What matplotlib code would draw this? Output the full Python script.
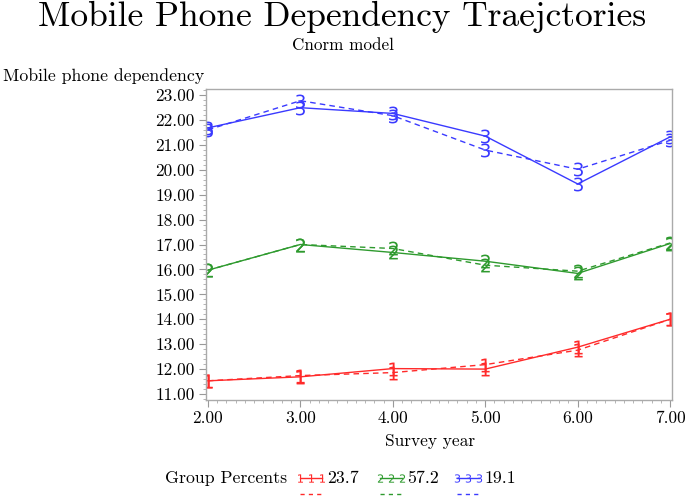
import matplotlib
matplotlib.use("Agg")
import matplotlib.pyplot as plt
from matplotlib.ticker import MultipleLocator, FormatStrFormatter, AutoMinorLocator

years = [2, 3, 4, 5, 6, 7]
obs_g1 = [11.53, 11.69, 12.02, 12.00, 12.88, 14.00]
pred_g1 = [11.53, 11.74, 11.86, 12.18, 12.76, 14.00]
obs_g2 = [15.97, 17.00, 16.68, 16.33, 15.84, 17.04]
pred_g2 = [15.97, 17.00, 16.84, 16.17, 15.93, 17.06]
obs_g3 = [21.68, 22.49, 22.26, 21.35, 19.43, 21.32]
pred_g3 = [21.60, 22.77, 22.17, 20.79, 20.02, 21.18]
group_labels = ["1", "2", "3"]
group_pcts = ["23.7", "57.2", "19.1"]
colors = ["#ff2a2a", "#2e9a2e", "#3a3aff"]

plt.rcParams['font.family'] = ['cmr10', 'DejaVu Serif']
plt.rcParams['axes.formatter.use_mathtext'] = True

fig = plt.figure(figsize=(6.85, 4.97), dpi=100)
ax = fig.add_axes([206/685, 1-400/497, (672-206)/685, (400-89)/497])

series = [(obs_g1, pred_g1), (obs_g2, pred_g2), (obs_g3, pred_g3)]
for (o, p), c, lab in zip(series, colors, group_labels):
    ax.plot(years, o, color=c, lw=1.0, ls='-', marker=f'${lab}$', ms=10, mew=0)
    ax.plot(years, p, color=c, lw=1.0, ls=(0, (4, 3)), marker=f'${lab}$', ms=10, mew=0)

ax.set_xlim(1.98, 7.02)
ax.set_ylim(10.76, 23.24)
ax.xaxis.set_major_locator(MultipleLocator(1))
ax.yaxis.set_major_locator(MultipleLocator(1))
ax.xaxis.set_minor_locator(AutoMinorLocator(10))
ax.yaxis.set_minor_locator(AutoMinorLocator(5))
ax.xaxis.set_major_formatter(FormatStrFormatter('%.2f'))
ax.yaxis.set_major_formatter(FormatStrFormatter('%.2f'))
for s in ax.spines.values():
    s.set_color('#aaaaaa')
    s.set_linewidth(1.0)
ax.tick_params(which='major', direction='out', length=5, color='#999999', labelsize=12.5, pad=3)
ax.tick_params(which='minor', direction='out', length=2.5, color='#aaaaaa')

fig.text(0.5, 1-17/497, "Mobile Phone Dependency Traejctories", ha='center', va='center', fontsize=25.5)
fig.text(0.5, 1-45/497, "Cnorm model", ha='center', va='center', fontsize=12.3)
fig.text(3/685, 1-76/497, "Mobile phone dependency", ha='left', va='center', fontsize=12.8)
fig.text(430/685, 1-441/497, "Survey year", ha='center', va='center', fontsize=12.5)

# legend row
ly = 1-478/497
fig.text(165/685, ly, "Group Percents", ha='left', va='center', fontsize=12.8)
lx = [300, 380, 457]
for x0, c, lab, pct in zip(lx, colors, group_labels, group_pcts):
    fig.lines.append(plt.Line2D([x0/685, (x0+11)/685, (x0+22)/685], [ly, ly, ly], color=c, lw=1.0,
                                marker=f'${lab}$', ms=6, mew=0,
                                transform=fig.transFigure))
    fig.text((x0+27)/685, ly, pct, ha='left', va='center', fontsize=12.8)
    fig.lines.append(plt.Line2D([x0/685, (x0+23)/685], [1-494/497, 1-494/497], color=c, lw=1.0,
                                ls=(0, (3, 3)), transform=fig.transFigure))

fig.savefig("out.png", dpi=100)
